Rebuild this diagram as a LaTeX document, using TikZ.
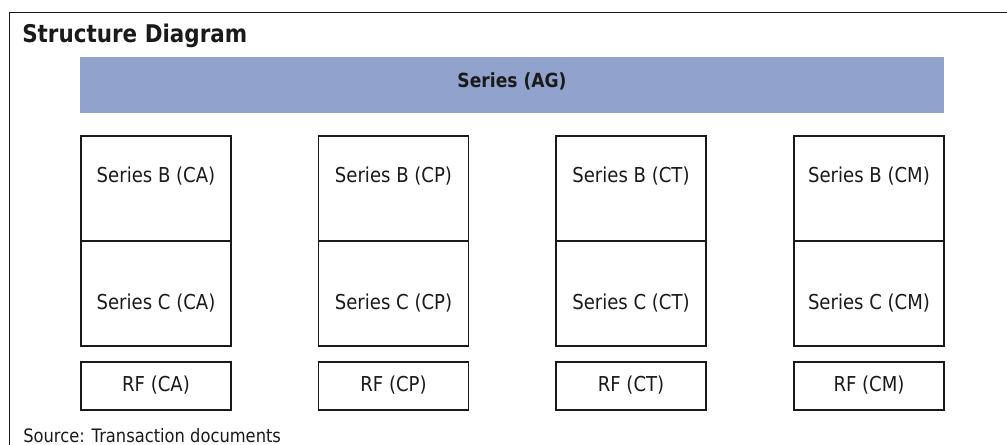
\documentclass[tikz,border=0pt]{standalone}
\usepackage{fontspec}
\setmainfont[FakeStretch=0.88]{DejaVu Sans}
\definecolor{barblue}{RGB}{145,163,205}
\definecolor{ink}{RGB}{26,26,26}
\begin{document}
\begin{tikzpicture}[x=0.75pt,y=-0.75pt,
  cell/.style={draw=ink,line width=0.9pt},
  lbl/.style={anchor=base,inner sep=0pt,text=ink,font=\fontsize{15.4pt}{18pt}\selectfont},
  ttl/.style={anchor=base west,inner sep=0pt,text=ink,font=\fontsize{18.3pt}{21pt}\selectfont\bfseries},
  src/.style={anchor=base west,inner sep=0pt,text=ink,font=\fontsize{13.9pt}{16pt}\selectfont},
  barlbl/.style={anchor=base,inner sep=0pt,text=ink,font=\fontsize{14.6pt}{17pt}\selectfont\bfseries}]
\useasboundingbox (0,0) rectangle (1007,445);
% outer frame
\coordinate (fr) at (1007,12.5);
\coordinate (fc) at (9.5,12.5);
\coordinate (fb) at (9.5,445);
\draw[ink,line width=1.4pt] (fr) -- (fc) -- (fb);
\node[ttl] (title) at (22,43) {Structure Diagram};
% bar
\fill[barblue] (80,57) rectangle (944,113);
\node[barlbl] (ag) at (512,88) {Series (AG)};
% columns
\foreach \x/\n in {81/CA,318.5/CP,556/CT,794/CM}{
  \draw[cell] (\x,136) rectangle ++(150,105);
  \draw[cell] (\x,241) rectangle ++(150,105);
  \draw[cell] (\x,362) rectangle ++(150,48);
  \node[lbl] (b\n) at (\x+75,183) {Series B (\n)};
  \node[lbl] (c\n) at (\x+75,310) {Series C (\n)};
  \node[lbl] (r\n) at (\x+75,392) {RF (\n)};
}
\node[src] (source) at (23,442) {Source: Transaction documents};
\end{tikzpicture}
\end{document}
